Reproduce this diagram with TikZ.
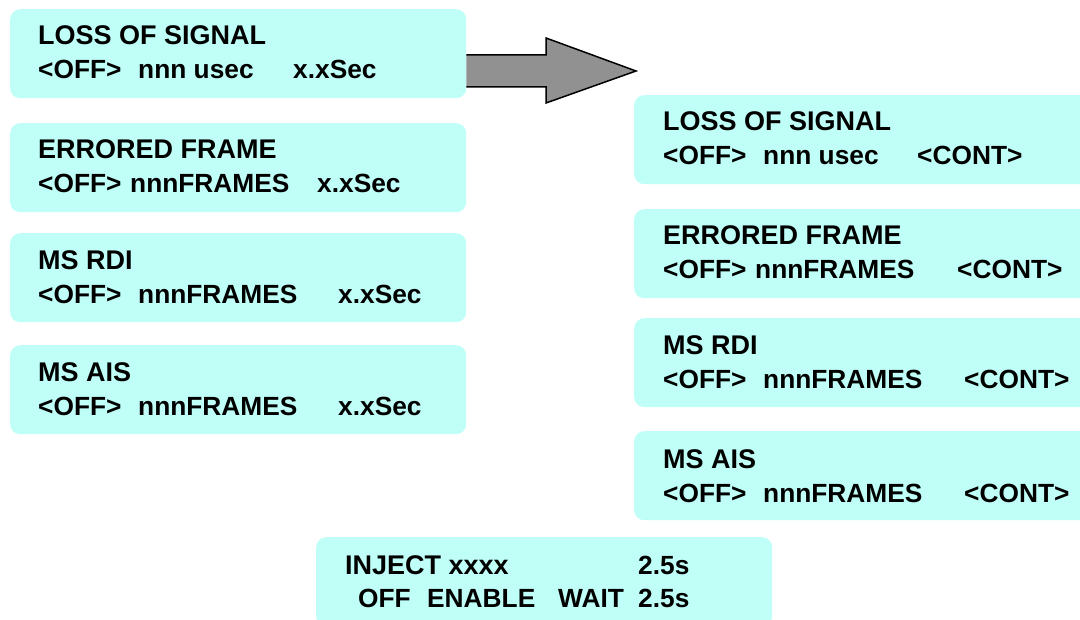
\documentclass[tikz,border=0pt]{standalone}
\usepackage{fontspec}
\setmainfont{Liberation Sans}
\definecolor{boxcyan}{RGB}{192,255,248}
\definecolor{arrowgray}{RGB}{145,145,145}
\begin{document}
\begin{tikzpicture}[x=1pt,y=-1pt,
  panel/.style={fill=boxcyan,draw=none,rounded corners=10pt,minimum width=456pt,minimum height=89pt,anchor=north west,inner sep=0pt},
  txt/.style={anchor=base west,inner sep=0pt,font=\fontsize{26.3}{30}\selectfont\bfseries},
  ttl/.style={txt,font=\fontsize{27}{30}\selectfont\bfseries}]
\useasboundingbox (0,0) rectangle (1080,620);
% left panels
\node[panel] (L1) at (10,9) {};
\node[panel] (L2) at (10,123) {};
\node[panel] (L3) at (10,233) {};
\node[panel] (L4) at (10,345) {};
% right panels
\node[panel] (R1) at (634,95) {};
\node[panel] (R2) at (634,209) {};
\node[panel] (R3) at (634,318) {};
\node[panel] (R4) at (634,431) {};
% bottom panel
\node[panel] (B) at (316,537) {};
% block arrow
\coordinate (tip) at (636,71);
\draw[fill=arrowgray,line width=1.5pt,line join=miter] (L1.east |- 0,55) -- (546,55) -- (546,38) -- (tip) -- (546,103) -- (546,87) -- (L1.east |- 0,87);
\fill[boxcyan] (456,50) rectangle (466,92);
% left texts
\node[ttl] (l1a) at (38,45) {LOSS OF SIGNAL};
\node[txt] (l1b) at (38,79) {<OFF>};
\node[txt] (l1c) at (138,79) {nnn usec};
\node[txt] (l1d) at (293,79) {x.xSec};
\node[ttl] (l2a) at (38,159) {ERRORED FRAME};
\node[txt] (l2b) at (38,193) {<OFF>};
\node[txt] (l2c) at (130,193) {nnnFRAMES};
\node[txt] (l2d) at (317,193) {x.xSec};
\node[ttl] (l3a) at (38,270) {MS RDI};
\node[txt] (l3b) at (38,304) {<OFF>};
\node[txt] (l3c) at (138,304) {nnnFRAMES};
\node[txt] (l3d) at (338,304) {x.xSec};
\node[ttl] (l4a) at (38,382) {MS AIS};
\node[txt] (l4b) at (38,416) {<OFF>};
\node[txt] (l4c) at (138,416) {nnnFRAMES};
\node[txt] (l4d) at (338,416) {x.xSec};
% right texts
\node[ttl] (r1a) at (663,131) {LOSS OF SIGNAL};
\node[txt] (r1b) at (663,165) {<OFF>};
\node[txt] (r1c) at (763,165) {nnn usec};
\node[txt] (r1d) at (917,165) {<CONT>};
\node[ttl] (r2a) at (663,245) {ERRORED FRAME};
\node[txt] (r2b) at (663,279) {<OFF>};
\node[txt] (r2c) at (755,279) {nnnFRAMES};
\node[txt] (r2d) at (957,279) {<CONT>};
\node[ttl] (r3a) at (663,355) {MS RDI};
\node[txt] (r3b) at (663,389) {<OFF>};
\node[txt] (r3c) at (763,389) {nnnFRAMES};
\node[txt] (r3d) at (964,389) {<CONT>};
\node[ttl] (r4a) at (663,468) {MS AIS};
\node[txt] (r4b) at (663,502) {<OFF>};
\node[txt] (r4c) at (763,502) {nnnFRAMES};
\node[txt] (r4d) at (964,502) {<CONT>};
% bottom texts
\node[ttl] (b1a) at (345,574) {INJECT xxxx};
\node[txt] (b1b) at (638,574) {2.5s};
\node[txt] (b2a) at (358,607) {OFF};
\node[txt] (b2b) at (427,607) {ENABLE};
\node[txt] (b2c) at (558,607) {WAIT};
\node[txt] (b2d) at (638,607) {2.5s};
\end{tikzpicture}
\end{document}
